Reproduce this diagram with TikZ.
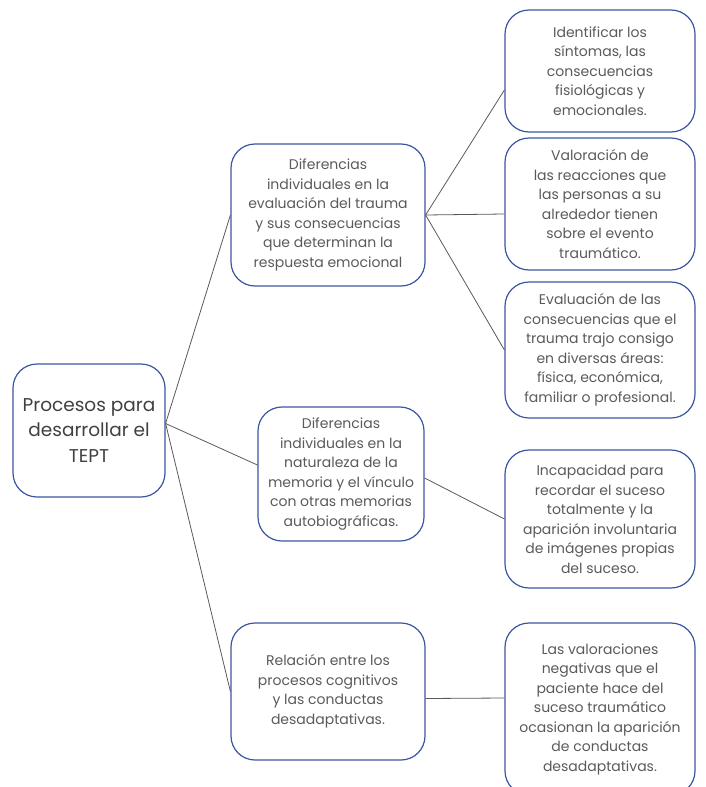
\documentclass[tikz,border=0pt]{standalone}
\usepackage{fontspec}
\setmainfont{Poppins}
\usepackage{xcolor}
\usetikzlibrary{positioning}
\definecolor{borde}{HTML}{3A56A0}
\definecolor{texto}{HTML}{5A5A5A}
\definecolor{linea}{HTML}{595959}
\tikzset{
caja/.style={draw=borde, line width=1.2pt, rounded corners=24pt, align=center, inner sep=0pt,
  text=texto, font=\fontsize{14}{19.5}\selectfont},
raiz/.style={caja, text=black!75, font=\fontsize{18.5}{25.5}\selectfont},
rama/.style={draw=linea, line width=0.8pt}
}

\begin{document}
\begin{tikzpicture}[x=1pt,y=-1pt]
	\useasboundingbox (0,0) rectangle (705,787);
	\clip (0,0) rectangle (705,787);
	% raiz
	\node[raiz, minimum width=152pt, minimum height=133pt] (tept) at (89,430.5) {Procesos para\\desarrollar el\\TEPT};
	% segundo nivel
	\node[caja, minimum width=194pt, minimum height=142pt] (evaluacion) at (328,215) {Diferencias\\individuales en la\\evaluación del trauma\\y sus consecuencias\\que determinan la\\respuesta emocional};
	\node[caja, minimum width=166pt, minimum height=134pt] (memoria) at (341,474) {Diferencias\\individuales en la\\naturaleza de la\\memoria y el vínculo\\con otras memorias\\autobiográficas.};
	\node[caja, minimum width=194pt, minimum height=137pt] (relacion) at (328,691.5) {Relación entre los\\procesos cognitivos\\y las conductas\\desadaptativas.};
	% tercer nivel
	\node[caja, minimum width=190pt, minimum height=122pt] (sintomas) at (600,71) {Identificar los\\síntomas, las\\consecuencias\\fisiológicas y\\emocionales.};
	\node[caja, minimum width=190pt, minimum height=132pt] (valoracion) at (600,204) {Valoración de\\las reacciones que\\las personas a su\\alrededor tienen\\sobre el evento\\traumático.};
	\node[caja, minimum width=190pt, minimum height=136pt] (areas) at (600,350) {Evaluación de las\\consecuencias que el\\trauma trajo consigo\\en diversas áreas:\\física, económica,\\familiar o profesional.};
	\node[caja, minimum width=190pt, minimum height=138pt] (incapacidad) at (600,519) {Incapacidad para\\recordar el suceso\\totalmente y la\\aparición involuntaria\\de imágenes propias\\del suceso.};
	\node[caja, minimum width=190pt, minimum height=172pt] (negativas) at (600,709) {Las valoraciones\\negativas que el\\paciente hace del\\suceso traumático\\ocasionan la aparición\\de conductas\\desadaptativas.};
	% ramas
	\draw[rama] ([yshift=7pt]tept.east) -- (evaluacion.west);
	\draw[rama] ([yshift=7pt]tept.east) -- ([yshift=9pt]memoria.west);
	\draw[rama] ([yshift=7pt]tept.east) -- (relacion.west);
	\draw[rama] (evaluacion.east) -- ([yshift=-19pt]sintomas.west);
	\draw[rama] (evaluacion.east) -- ([yshift=-10pt]valoracion.west);
	\draw[rama] (evaluacion.east) -- (areas.west);
	\draw[rama] ([yshift=-4pt]memoria.east) -- (incapacidad.west);
	\draw[rama] ([yshift=-7pt]relacion.east) -- ([yshift=11pt]negativas.west);
\end{tikzpicture}
\end{document}
